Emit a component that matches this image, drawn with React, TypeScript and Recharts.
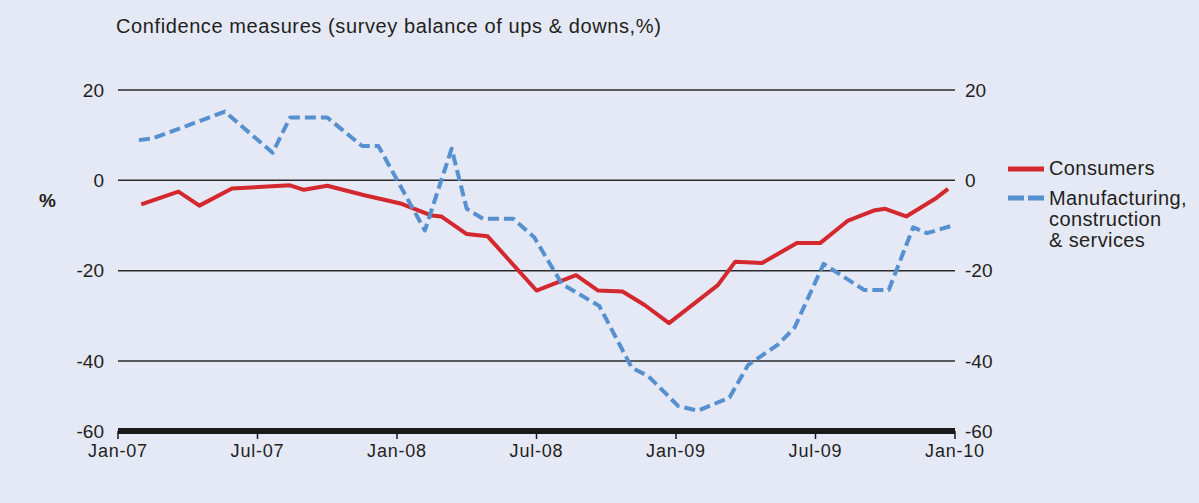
import React from 'react'
import { LineChart, Line, XAxis, YAxis, CartesianGrid } from 'recharts'

// months since Jan-07 (survey dates are not evenly spaced)
const consumerMonths = [1.0, 2.6, 3.5, 4.9, 7.4, 8.0, 9.0, 10.6, 12.2, 13.5, 13.9, 15.0, 15.9, 18.0, 19.7, 20.65, 21.7, 22.65, 23.7, 25.8, 26.55, 27.7, 29.2, 30.2, 31.4, 32.5, 33.0, 33.9, 35.2, 35.7]
const consumerValues = [-5.3, -2.5, -5.6, -1.8, -1.1, -2.1, -1.2, -3.3, -5.2, -7.8, -8.0, -11.9, -12.4, -24.4, -21.0, -24.4, -24.6, -27.6, -31.6, -23.2, -18.0, -18.3, -13.9, -13.9, -8.9, -6.7, -6.3, -8.0, -3.9, -1.9]

const businessMonths = [0.9, 1.5, 4.6, 6.65, 7.4, 9.0, 10.5, 11.2, 13.2, 14.35, 15.0, 15.7, 17.0, 17.9, 19.1, 20.7, 22.1, 22.8, 24.1, 24.95, 26.3, 27.1, 28.4, 29.1, 30.35, 32.1, 33.15, 34.2, 34.8, 35.9]
const businessValues = [8.9, 9.3, 15.2, 6.1, 13.9, 13.9, 7.6, 7.6, -11.1, 7.0, -6.3, -8.5, -8.5, -12.6, -23.0, -27.8, -41.5, -43.3, -50.0, -51.0, -48.1, -40.9, -36.3, -32.6, -18.5, -24.3, -24.3, -10.4, -11.7, -10.0]

const xTickValues = [0, 6, 12, 18, 24, 30, 36]
const xTickLabels = ['Jan-07', 'Jul-07', 'Jan-08', 'Jul-08', 'Jan-09', 'Jul-09', 'Jan-10']

// bottom of the scale is drawn compressed in the original; it is labelled -60
const yTickValues = [-55.5, -40, -20, 0, 20]
const yTickLabels = ['-60', '-40', '-20', '0', '20']

const consumerData = consumerMonths.map((m, i) => ({ m, v: consumerValues[i] }))
const businessData = businessMonths.map((m, i) => ({ m, v: businessValues[i] }))

const FONT = '"Liberation Sans", Arial, Helvetica, sans-serif'
const TEXT = '#231f20'
const RED = '#d3282d'
const BLUE = '#5590d0'

const xLabel = (v: number) => xTickLabels[xTickValues.indexOf(v)] ?? ''
const yLabel = (v: number) => yTickLabels[yTickValues.indexOf(v)] ?? ''

function LegendBox() {
  return (
    <div style={{ position: 'absolute', left: 1008, top: 158, fontSize: 20, color: TEXT, lineHeight: '21px', letterSpacing: 0.4 }}>
      <div style={{ display: 'flex', alignItems: 'center' }}>
        <svg width={41} height={10}>
          <line x1={0} y1={5} x2={36} y2={5} stroke={RED} strokeWidth={5} />
        </svg>
        <span>Consumers</span>
      </div>
      <div style={{ display: 'flex', alignItems: 'flex-start', marginTop: 9 }}>
        <svg width={41} height={21} style={{ flexShrink: 0 }}>
          <line x1={0} y1={10} x2={36} y2={10} stroke={BLUE} strokeWidth={5} strokeDasharray="16 4" />
        </svg>
        <span>
          Manufacturing,
          <br />
          construction
          <br />
          &amp; services
        </span>
      </div>
    </div>
  )
}

export default function App() {
  return (
    <div
      style={{
        position: 'absolute',
        left: 0,
        top: 0,
        width: 1199,
        height: 503,
        background: '#e5e8f5',
        fontFamily: FONT,
      }}
    >
      <div style={{ position: 'absolute', left: 116, top: 15, fontSize: 20, color: TEXT, letterSpacing: 0.6 }}>
        Confidence measures (survey balance of ups &amp; downs,%)
      </div>
      <LineChart width={1199} height={503} margin={{ top: 90, right: 0, bottom: 0, left: 0 }}>
        <CartesianGrid yAxisId="left" vertical={false} horizontal stroke="#2b2b2b" strokeWidth={1.5} />
        <XAxis
          type="number"
          dataKey="m"
          domain={[0, 36]}
          ticks={xTickValues}
          tickFormatter={xLabel}
          height={72}
          axisLine={{ stroke: '#1a1a1a', strokeWidth: 6 }}
          tickLine={{ stroke: '#1a1a1a', strokeWidth: 1.5 }}
          tickSize={8}
          tickMargin={5}
          tick={{ fontSize: 18, fill: TEXT, fontFamily: FONT, letterSpacing: 0.8 }}
          allowDataOverflow
        />
        <YAxis
          yAxisId="left"
          type="number"
          domain={[-55.5, 20]}
          ticks={yTickValues}
          tickFormatter={yLabel}
          width={118}
          axisLine={false}
          tickLine={false}
          tickMargin={8}
          tick={{ fontSize: 19, fill: TEXT, fontFamily: FONT }}
          allowDataOverflow
          label={{ value: '%', position: 'insideLeft', offset: 39, dy: -60, fontSize: 19, fontWeight: 'bold', fill: TEXT, fontFamily: FONT }}
        />
        <YAxis
          yAxisId="right"
          orientation="right"
          type="number"
          domain={[-55.5, 20]}
          ticks={yTickValues}
          tickFormatter={yLabel}
          width={244}
          axisLine={false}
          tickLine={false}
          tickMargin={4}
          tick={{ fontSize: 19, fill: TEXT, fontFamily: FONT }}
          allowDataOverflow
        />
        <Line
          yAxisId="left"
          data={consumerData}
          dataKey="v"
          name="Consumers"
          stroke={RED}
          strokeWidth={4}
          dot={false}
          activeDot={false}
          strokeLinejoin="round"
          isAnimationActive={false}
        />
        <Line
          yAxisId="left"
          data={businessData}
          dataKey="v"
          name="Manufacturing, construction & services"
          stroke={BLUE}
          strokeWidth={4}
          strokeDasharray="11 5"
          dot={false}
          activeDot={false}
          strokeLinejoin="round"
          isAnimationActive={false}
        />
      </LineChart>
      <LegendBox />
    </div>
  )
}
